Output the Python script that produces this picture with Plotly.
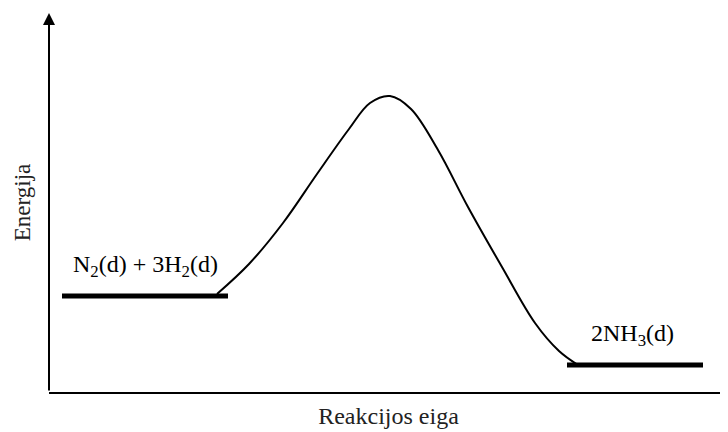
import plotly.graph_objects as go

# Energy profile data (arbitrary units: reaction progress vs energy)
reactant_x = [13, 179]
reactant_energy = [96, 96]
product_x = [518, 654]
product_energy = [27, 27]

curve_x = [168, 200, 234, 268, 300, 321, 341, 362, 389, 419, 453, 486, 510, 529]
curve_y = [98, 128, 169, 218, 263, 289, 296, 283, 242, 185, 125, 69, 41, 27]

reactant_label = "N<sub>2</sub>(d) + 3H<sub>2</sub>(d)"
product_label = "2NH<sub>3</sub>(d)"
x_title = "Reakcijos eiga"
y_title = "Energija"

FONT = "Liberation Serif"

fig = go.Figure()
fig.add_trace(go.Scatter(x=curve_x, y=curve_y, mode="lines",
                         line=dict(color="black", width=2, shape="spline", smoothing=1.0),
                         hoverinfo="skip"))
fig.add_trace(go.Scatter(x=reactant_x, y=reactant_energy, mode="lines",
                         line=dict(color="black", width=5), hoverinfo="skip"))
fig.add_trace(go.Scatter(x=product_x, y=product_energy, mode="lines",
                         line=dict(color="black", width=5), hoverinfo="skip"))

# labels
fig.add_annotation(x=sum(reactant_x) / 2, y=reactant_energy[0], text=reactant_label,
                   showarrow=False, yanchor="bottom", yshift=13,
                   font=dict(family=FONT, size=24, color="black"))
fig.add_annotation(x=sum(product_x) / 2 - 3, y=product_energy[0], text=product_label,
                   showarrow=False, yanchor="bottom", yshift=13,
                   font=dict(family=FONT, size=24, color="black"))

# y axis with arrow
fig.add_annotation(x=0, y=379, ax=0, ay=0, xref="x", yref="y", axref="x", ayref="y",
                   showarrow=True, arrowhead=2, arrowsize=1.2, arrowwidth=2, arrowcolor="black",
                   text="")

fig.update_layout(
    width=728, height=432,
    margin=dict(l=41, r=8, t=5, b=48),
    paper_bgcolor="white", plot_bgcolor="white",
    showlegend=False,
    xaxis=dict(range=[0, 679], showgrid=False, zeroline=False, showticklabels=False,
               ticks="", showline=True, linecolor="black", linewidth=2,
               title=dict(text=x_title, font=dict(family=FONT, size=24, color="#222"), standoff=14)),
    yaxis=dict(range=[0, 379], showgrid=False, zeroline=False, showticklabels=False,
               ticks="", showline=False,
               title=dict(text=y_title, font=dict(family=FONT, size=23, color="#222"), standoff=10)),
)

fig.write_html("out.html")
